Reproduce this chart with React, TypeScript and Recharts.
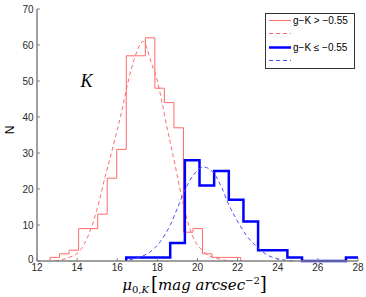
import React from 'react';
import { ComposedChart, Line, XAxis, YAxis, Legend, ReferenceDot } from 'recharts';

// red histogram (g-K > -0.55): bin edges and counts
const redEdges = [12.65, 13.125, 13.6, 14.075, 14.55, 15.025, 15.5, 15.975, 16.45, 16.925, 17.4, 17.875, 18.35, 18.825, 19.3, 19.775, 20.25, 20.725, 21.2, 21.675, 22.15];
const redCounts = [1, 2, 3, 9, 9, 13, 23, 31, 57, 57, 62, 48, 44, 37, 8, 9, 2, 1, 1, 1];

// blue histogram (g-K <= -0.55)
const blueEdges = [16.45, 17.18, 17.91, 18.64, 19.37, 20.1, 20.83, 21.56, 22.29, 23.02, 23.75, 24.48, 25.21, 25.94, 26.67, 27.4, 28.13];
const blueCounts = [1, 1, 1, 5, 28, 21, 25, 17, 11, 3, 3, 1, 0, 0, 0, 1];

// dashed fits
const redFitX = [12.9, 13.5, 14.1, 14.55, 15.0, 15.4, 15.8, 16.2, 16.55, 16.9, 17.3, 17.7, 18.0, 18.2, 18.52, 18.68, 18.98, 19.32, 19.73, 20.3, 21.1, 21.8];
const redFitY = [0, 0.8, 2.6, 7, 14.5, 23.5, 32, 41, 50, 57, 61, 55, 50, 45, 36, 32, 24, 15, 7.3, 2.6, 0.5, 0];
const blueFitX = [16.6, 17.1, 17.65, 18.15, 18.65, 19.0, 19.35, 19.75, 20.3, 20.8, 21.2, 21.57, 21.95, 22.45, 22.95, 23.5, 24.1, 24.8];
const blueFitY = [0.3, 1.0, 2.6, 5.4, 10.1, 14.7, 19.4, 23.5, 26.1, 24.5, 20.5, 15.5, 11.5, 7, 4, 1.6, 0.5, 0];

const xTicks = [12, 14, 16, 18, 20, 22, 24, 26, 28];
const yTicks = [0, 10, 20, 30, 40, 50, 60, 70];

const legendLabels = ['g\u2212K > \u22120.55', 'g\u2212K \u2264 \u22120.55'];
const annotation = { x: 14.47, y: 50, text: 'K' };

const toSteps = (edges: number[], counts: number[]) => [
  { x: edges[0], y: 0 },
  ...counts.map((c, i) => ({ x: edges[i], y: c })),
  { x: edges[edges.length - 1], y: 0 },
];
const toPts = (xs: number[], ys: number[]) => xs.map((x, i) => ({ x, y: ys[i] }));

const redStep = toSteps(redEdges, redCounts);
const blueStep = toSteps(blueEdges, blueCounts);
const redFit = toPts(redFitX, redFitY);
const blueFit = toPts(blueFitX, blueFitY);

const AXIS = '#808080';
const TXT = '#2a2a2a';
const SANS = 'Liberation Sans, Arial, sans-serif';
const RED = '#ff6a6a';
const BLUE = '#0000ff';
const LBLUE = '#4d4dff';

const BottomTick = ({ x, y, payload }: any) => (
  <g>
    <line x1={x} y1={y} x2={x} y2={y - 3} stroke={AXIS} />
    <text x={x} y={y + 10} textAnchor="middle" fontSize={10} fill={TXT} fontFamily={SANS}>{payload.value}</text>
  </g>
);
const TopTick = ({ x, y }: any) => <line x1={x} y1={y} x2={x} y2={y + 3} stroke={AXIS} />;
const LeftTick = ({ x, y, payload }: any) => (
  <g>
    <line x1={x} y1={y} x2={x + 3} y2={y} stroke={AXIS} />
    <text x={x - 3.5} y={payload.value === 0 ? y + 1.5 : y + 3.5} textAnchor="end" fontSize={10} fill={TXT} fontFamily={SANS}>{payload.value}</text>
  </g>
);
const RightTick = ({ x, y }: any) => <line x1={x} y1={y} x2={x - 3} y2={y} stroke={AXIS} />;

const XLabel = ({ viewBox }: any) => {
  const cx = viewBox.x + viewBox.width / 2 - 3;
  const by = viewBox.y + 29;
  return (
    <text x={cx} y={by} textAnchor="middle" fontFamily="DejaVu Serif, serif" fontSize={15} fill="#000">
      <tspan fontStyle="italic">μ</tspan>
      <tspan fontSize={10} dy={3}>0,</tspan>
      <tspan fontSize={10} fontStyle="italic">K</tspan>
      <tspan fontSize={18} dy={-3} dx={2}>[</tspan>
      <tspan fontStyle="italic">mag arcsec</tspan>
      <tspan fontSize={10} dy={-6}>−2</tspan>
      <tspan fontSize={18} dy={6}>]</tspan>
    </text>
  );
};

const YLabel = ({ viewBox }: any) => {
  const x = 14;
  const y = viewBox.y + viewBox.height / 2 - 5;
  return (
    <text x={x} y={y} transform={`rotate(-90 ${x} ${y})`} textAnchor="middle" fontSize={12} fill="#000" fontFamily={SANS}>N</text>
  );
};

const LegendBox = () => (
  <svg width={90} height={56} style={{ display: 'block' }}>
    <rect x={0.5} y={0.5} width={89} height={55} fill="#fff" stroke="#333" />
    <line x1={4} y1={7.5} x2={26} y2={7.5} stroke={RED} strokeWidth={1} />
    <text x={28} y={11} fontSize={10} fill="#000" fontFamily={SANS}>{legendLabels[0]}</text>
    <line x1={4} y1={20.5} x2={26} y2={20.5} stroke={RED} strokeDasharray="4 3" />
    <line x1={4} y1={34.5} x2={26} y2={34.5} stroke={BLUE} strokeWidth={2.5} />
    <text x={28} y={38} fontSize={10} fill="#000" fontFamily={SANS}>{legendLabels[1]}</text>
    <line x1={4} y1={47.5} x2={26} y2={47.5} stroke={LBLUE} strokeDasharray="4 3" />
  </svg>
);

export default function App() {
  return (
    <div style={{ position: 'absolute', left: 0, top: 0, width: 366, height: 297, background: '#fff' }}>
      <ComposedChart width={366} height={297} margin={{ top: 9, right: 8, left: 0, bottom: 0 }}>
        <XAxis xAxisId="b" dataKey="x" type="number" domain={[12, 28]} ticks={xTicks} allowDataOverflow
          height={36} tickSize={0} tickMargin={0} tick={<BottomTick />} axisLine={{ stroke: AXIS, strokeWidth: 1.5 }}
          label={<XLabel />} interval={0} />
        <XAxis xAxisId="t" orientation="top" dataKey="x" type="number" domain={[12, 28]} ticks={xTicks} allowDataOverflow
          height={0} tickSize={0} tickMargin={0} tick={<TopTick />} axisLine={{ stroke: AXIS, strokeWidth: 1.5 }} interval={0} />
        <YAxis yAxisId="l" type="number" domain={[0, 70]} ticks={yTicks} width={37} tickSize={0} tickMargin={0}
          tick={<LeftTick />} axisLine={{ stroke: AXIS, strokeWidth: 1.5 }} label={<YLabel />} interval={0} />
        <YAxis yAxisId="r" orientation="right" type="number" domain={[0, 70]} ticks={yTicks} width={0} tickSize={0}
          tickMargin={0} tick={<RightTick />} axisLine={{ stroke: AXIS, strokeWidth: 1.5 }} interval={0} />
        <Line xAxisId="b" yAxisId="l" data={redStep} dataKey="y" type="stepAfter" stroke={RED} strokeWidth={1} dot={false} isAnimationActive={false} />
        <Line xAxisId="b" yAxisId="l" data={redFit} dataKey="y" type="monotone" stroke={RED} strokeWidth={1} strokeDasharray="4 3" dot={false} isAnimationActive={false} />
        <Line xAxisId="b" yAxisId="l" data={blueStep} dataKey="y" type="stepAfter" stroke={BLUE} strokeWidth={2.5} dot={false} isAnimationActive={false} />
        <Line xAxisId="b" yAxisId="l" data={blueFit} dataKey="y" type="monotone" stroke={LBLUE} strokeWidth={1} strokeDasharray="4 3" dot={false} isAnimationActive={false} />
        <ReferenceDot xAxisId="b" yAxisId="l" x={annotation.x} y={annotation.y} r={0} fill="none" stroke="none"
          label={(p: any) => (
            <text x={p.viewBox.x} y={p.viewBox.y + 6} textAnchor="middle" fontSize={18} fontStyle="italic"
              fontFamily="Liberation Serif, serif" fill="#000">{annotation.text}</text>
          )} />
        <Legend layout="horizontal" verticalAlign="middle" align="center" content={<LegendBox />}
          wrapperStyle={{ position: 'absolute', left: 265, top: 13, width: 90, height: 56 }} />
      </ComposedChart>
    </div>
  );
}
